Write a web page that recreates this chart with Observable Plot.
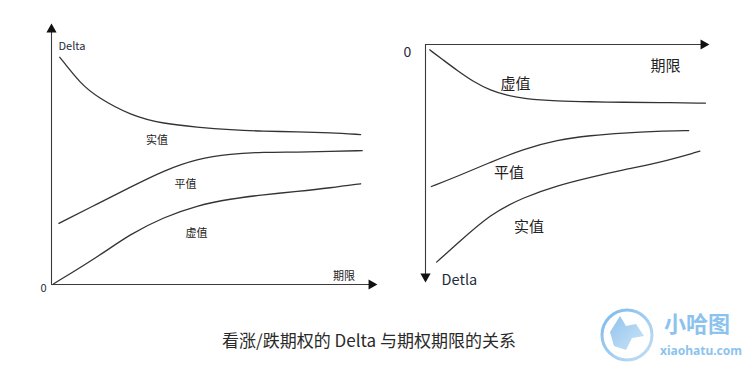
<!DOCTYPE html>
<html>
<head>
<meta charset="utf-8">
<script src="https://cdn.jsdelivr.net/npm/d3@7"></script>
<script src="https://cdn.jsdelivr.net/npm/@observablehq/plot@0.6"></script>
<style>
  html, body { margin: 0; padding: 0; background: #fff; }
  #wrap { position: relative; width: 756px; height: 366px; overflow: hidden; font-family: "Noto Sans CJK SC", "Noto Sans", sans-serif; }
  #left { position: absolute; left: 0; top: 0; }
  #right { position: absolute; left: 390px; top: 0; }
  #caption { position: absolute; left: 0; width: 738px; top: 328px; text-align: center; font-size: 17px; color: #2a2a2a; line-height: 24px; }
  #wm { position: absolute; left: 596px; top: 302px; }
</style>
</head>
<body>
<div id="wrap">
  <div id="left"></div>
  <div id="right"></div>
  <div id="caption">看涨/跌期权的 Delta 与期权期限的关系</div>
  <svg id="wm" width="160" height="64" viewBox="0 0 160 64">
    <defs>
      <linearGradient id="g" x1="0" y1="0" x2="1" y2="1">
        <stop offset="0" stop-color="#7db9ea"/>
        <stop offset="1" stop-color="#c4dff5"/>
      </linearGradient>
    </defs>
    <circle cx="31" cy="33" r="25" fill="none" stroke="url(#g)" stroke-width="3"/>
    <path d="M14 30 L24 14 L30 24 L40 22 L48 34 L36 36 L30 48 L18 44 Z" fill="url(#g)" opacity="0.85"/>
    <text x="68" y="30" font-size="22" font-weight="bold" fill="#8cc3ee" font-family="Noto Sans CJK SC">小哈图</text>
    <text x="64" y="53" font-size="12" font-weight="bold" fill="#8cc3ee" font-family="Noto Sans">xiaohatu.com</text>
  </svg>
</div>
<script>
// ---- Left panel: call option delta vs. time to maturity ----
const leftT_shi  = [0.26, 0.91, 1.43, 2.47, 3.51, 4.55, 5.59, 6.63, 7.68, 8.72, 9.66];
const leftD_shi  = [0.891, 0.787, 0.735, 0.663, 0.630, 0.617, 0.607, 0.601, 0.599, 0.595, 0.588];
const leftT_ping = [0.23, 1.43, 2.47, 3.51, 4.55, 5.59, 6.63, 7.68, 8.72, 9.71];
const leftD_ping = [0.240, 0.316, 0.382, 0.447, 0.493, 0.513, 0.519, 0.519, 0.522, 0.525];
const leftT_xu   = [0.07, 1.43, 2.47, 3.51, 4.55, 5.59, 6.63, 7.68, 8.72, 9.66];
const leftD_xu   = [0.003, 0.107, 0.199, 0.264, 0.310, 0.336, 0.352, 0.365, 0.379, 0.395];

// ---- Right panel: put option delta (downward axis) vs. time to maturity ----
const rightT_xu   = [0.15, 0.66, 1.14, 1.74, 2.34, 2.94, 3.54, 4.74, 5.94, 7.13, 8.33, 10.07];
const rightD_xu   = [0.023, 0.069, 0.112, 0.162, 0.198, 0.220, 0.234, 0.244, 0.247, 0.249, 0.250, 0.253];
const rightT_ping = [0.21, 1.14, 2.34, 3.54, 4.74, 5.94, 7.13, 8.33, 9.47];
const rightD_ping = [0.612, 0.569, 0.507, 0.450, 0.411, 0.392, 0.381, 0.374, 0.371];
const rightT_shi  = [0.40, 1.14, 2.34, 3.54, 4.74, 5.94, 7.13, 8.33, 9.87];
const rightD_shi  = [0.938, 0.859, 0.730, 0.658, 0.608, 0.572, 0.540, 0.512, 0.460];

// labels (text + anchor in data units)
const leftLabels  = [
  {text: "实值", t: 3.30, d: 0.565},
  {text: "平值", t: 4.19, d: 0.392},
  {text: "虚值", t: 4.53, d: 0.199}
];
const rightLabels = [
  {text: "虚值", t: 3.24, d: 0.169},
  {text: "平值", t: 3.00, d: 0.555},
  {text: "实值", t: 3.72, d: 0.787}
];
const axisTitles = {
  leftY: "Delta", leftX: "期限", rightY: "Detla", rightX: "期限", zero: "0"
};

const toRows = (ts, ds) => ts.map((t, i) => ({t, d: ds[i]}));
const lineColor = "#333";
const axisColor = "#3a3a3a";
const textColor = "#222";
const font = "Noto Sans CJK SC, Noto Sans, sans-serif";
const curve = "basis";

const left = Plot.plot({
  width: 390, height: 310,
  marginLeft: 51, marginRight: 19, marginTop: 29, marginBottom: 26,
  x: {domain: [0, 10], axis: null},
  y: {domain: [0, 1], axis: null},
  style: {fontFamily: font, background: "transparent"},
  marks: [
    Plot.ruleX([0], {y1: 0, y2: 1, stroke: axisColor, strokeWidth: 1.1}),
    Plot.ruleY([0], {x1: 0, x2: 10, stroke: axisColor, strokeWidth: 1.1}),
    Plot.dot([{t: 0, d: 1}], {x: "t", y: "d", symbol: "triangle", r: 3.8, fill: "#111", stroke: null}),
    Plot.dot([{t: 10, d: 0}], {x: "t", y: "d", symbol: "triangle", r: 3.8, fill: "#111", stroke: null, rotate: 90}),
    Plot.line(toRows(leftT_shi, leftD_shi), {x: "t", y: "d", curve, stroke: lineColor, strokeWidth: 1.3}),
    Plot.line(toRows(leftT_ping, leftD_ping), {x: "t", y: "d", curve, stroke: lineColor, strokeWidth: 1.3}),
    Plot.line(toRows(leftT_xu, leftD_xu), {x: "t", y: "d", curve, stroke: lineColor, strokeWidth: 1.3}),
    Plot.text(leftLabels, {x: "t", y: "d", text: "text", fontSize: 11, fill: textColor}),
    Plot.text([axisTitles.leftY], {x: 0.22, y: 0.933, text: d => d, textAnchor: "start", fontSize: 11, fill: "#1e2b3a"}),
    Plot.text([axisTitles.leftX], {x: 9.14, y: 0.031, text: d => d, fontSize: 11, fill: textColor}),
    Plot.text([axisTitles.zero], {x: -0.25, y: -0.016, text: d => d, fontSize: 11, fill: "#1e2b3a"})
  ]
});
document.getElementById("left").appendChild(left);

const right = Plot.plot({
  width: 366, height: 310,
  marginLeft: 35, marginRight: 53, marginTop: 44, marginBottom: 34,
  x: {domain: [0, 10], axis: null},
  y: {domain: [0, 1], reverse: true, axis: null},
  style: {fontFamily: font, background: "transparent"},
  marks: [
    Plot.ruleX([0], {y1: 0, y2: 1, stroke: axisColor, strokeWidth: 1.1}),
    Plot.ruleY([0], {x1: 0, x2: 10, stroke: axisColor, strokeWidth: 1.1}),
    Plot.dot([{t: 0, d: 1}], {x: "t", y: "d", symbol: "triangle", r: 3.8, fill: "#111", stroke: null, rotate: 180}),
    Plot.dot([{t: 10, d: 0}], {x: "t", y: "d", symbol: "triangle", r: 3.8, fill: "#111", stroke: null, rotate: 90}),
    Plot.line(toRows(rightT_xu, rightD_xu), {x: "t", y: "d", curve, stroke: lineColor, strokeWidth: 1.3}),
    Plot.line(toRows(rightT_ping, rightD_ping), {x: "t", y: "d", curve, stroke: lineColor, strokeWidth: 1.3}),
    Plot.line(toRows(rightT_shi, rightD_shi), {x: "t", y: "d", curve, stroke: lineColor, strokeWidth: 1.3}),
    Plot.text(rightLabels, {x: "t", y: "d", text: "text", fontSize: 15, fill: textColor}),
    Plot.text([axisTitles.rightX], {x: 8.63, y: 0.093, text: d => d, fontSize: 15, fill: textColor}),
    Plot.text([axisTitles.rightY], {x: 0.58, y: 1.017, text: d => d, textAnchor: "start", fontSize: 14.5, fill: "#1e2b3a"}),
    Plot.text([axisTitles.zero], {x: -0.65, y: 0.034, text: d => d, fontSize: 14, fill: "#1e2b3a"})
  ]
});
document.getElementById("right").appendChild(right);
</script>
</body>
</html>
